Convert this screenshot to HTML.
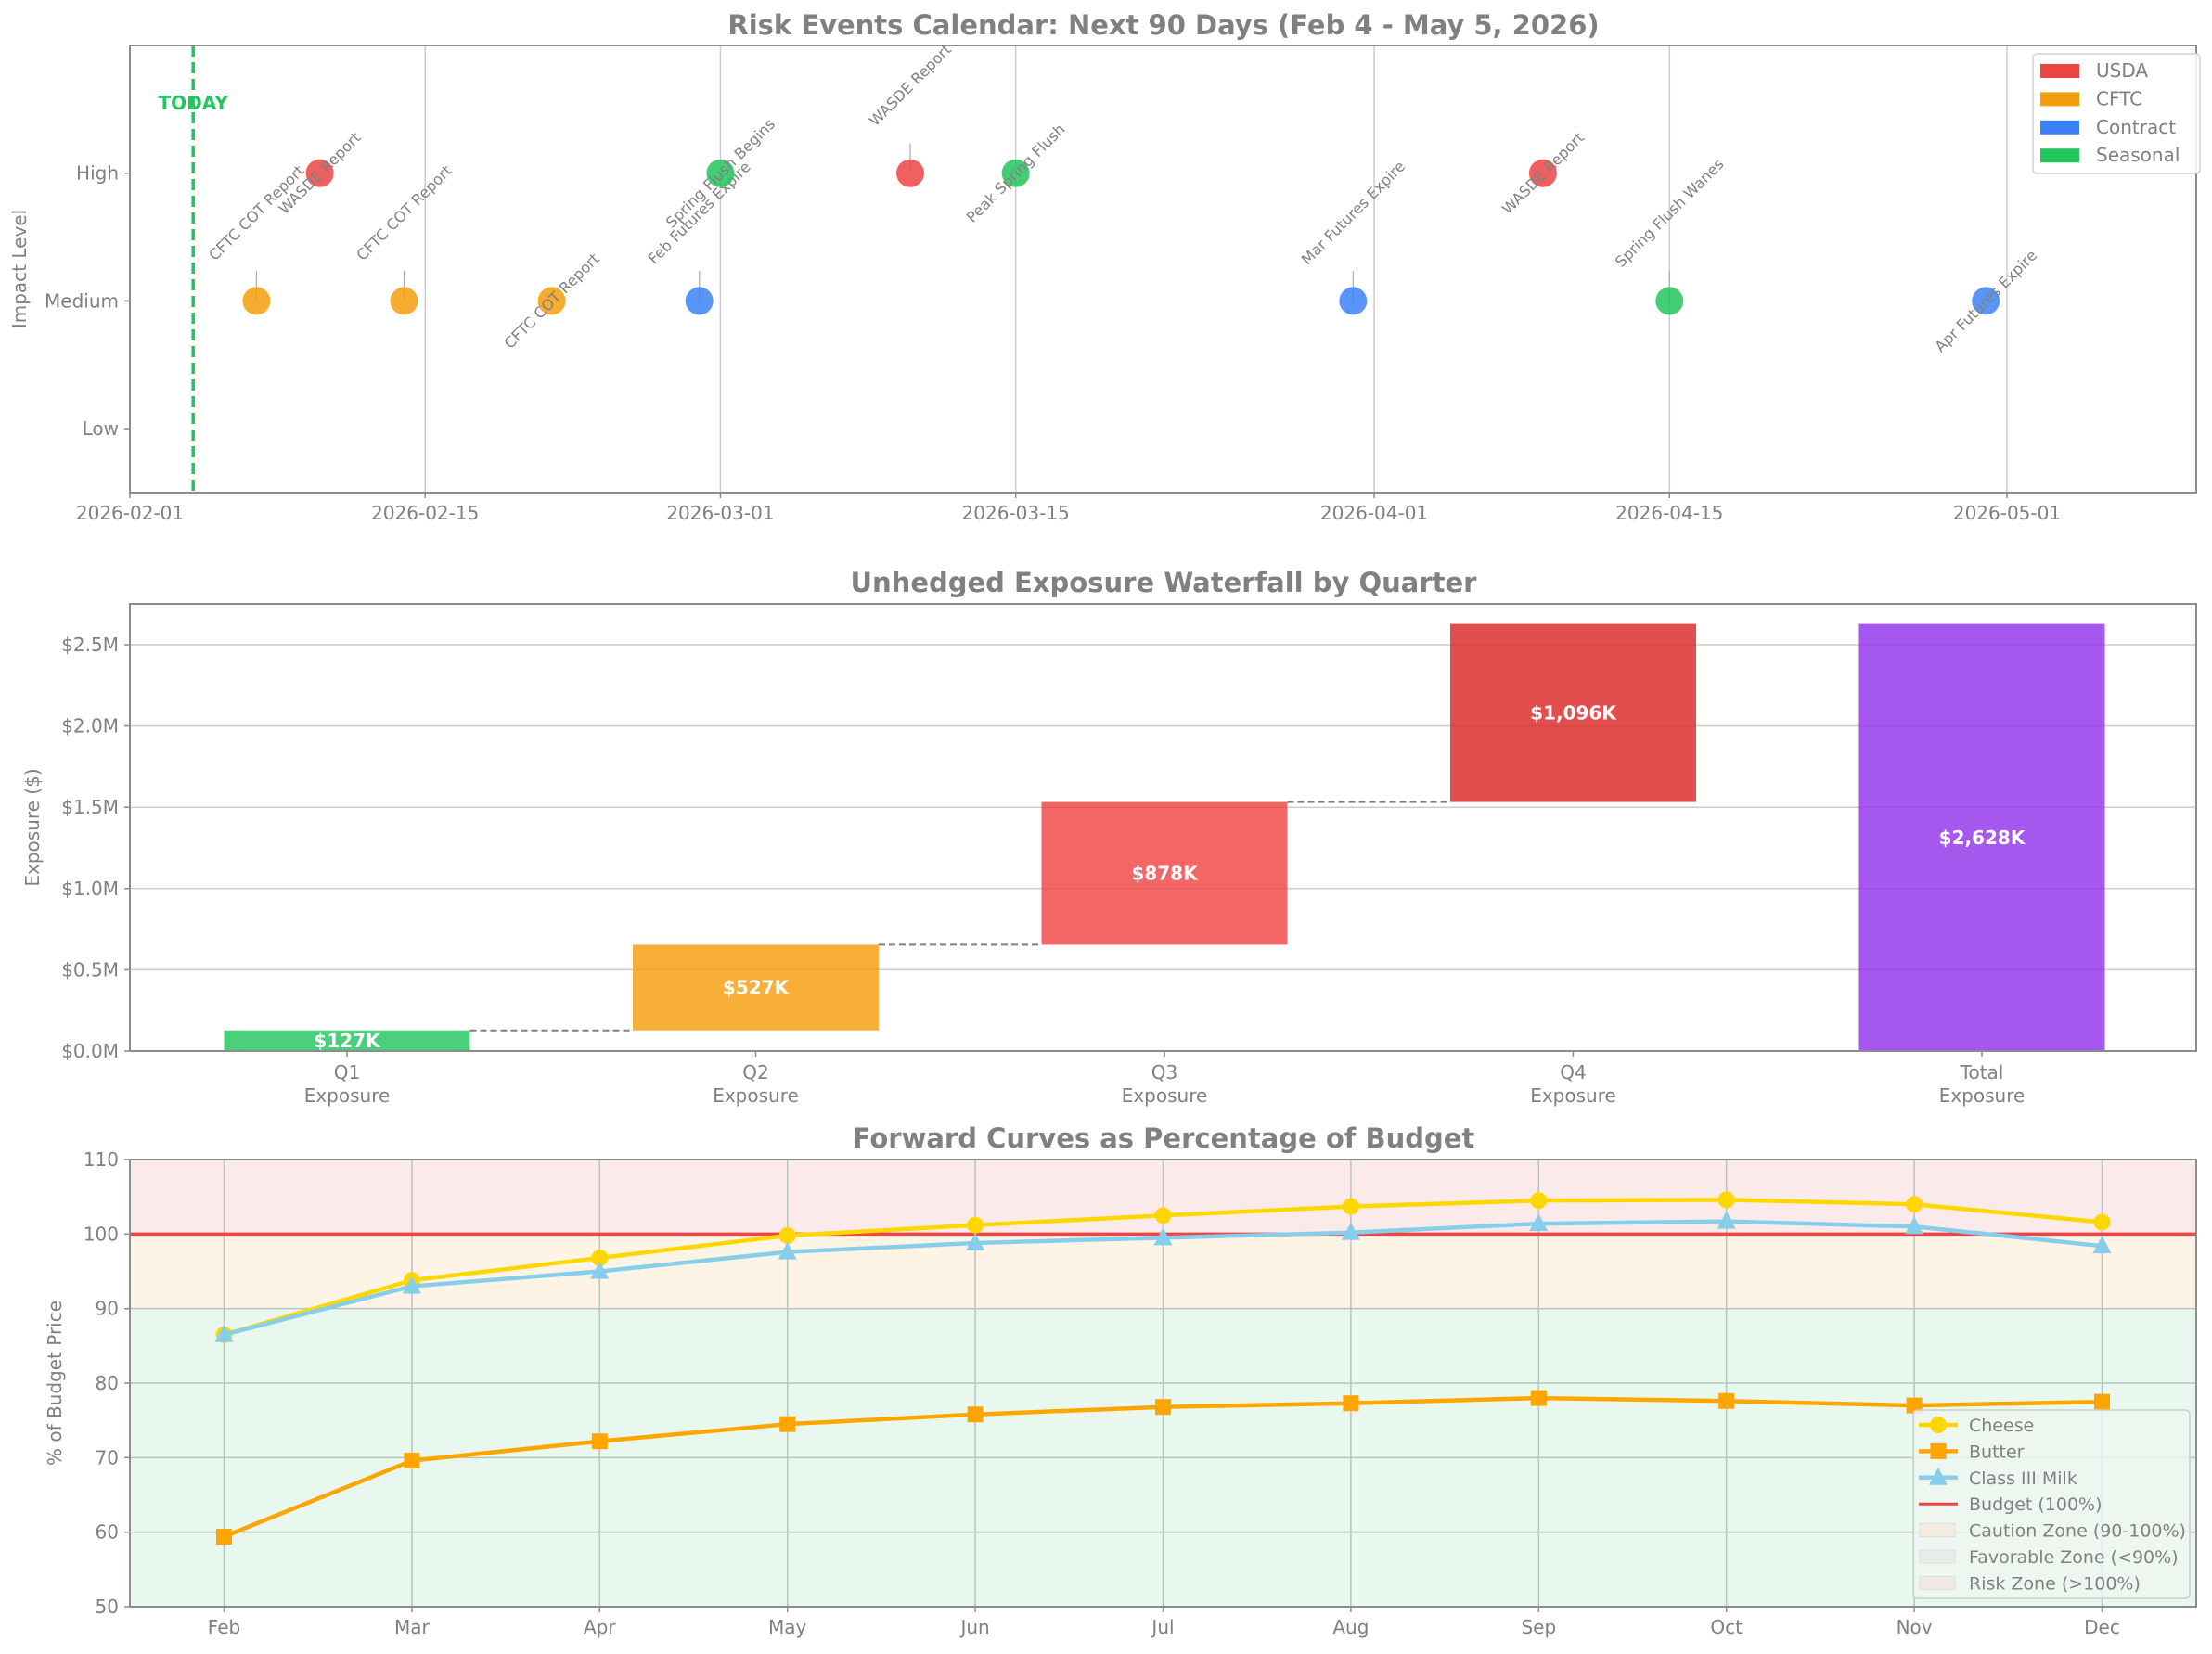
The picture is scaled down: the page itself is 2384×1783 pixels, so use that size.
<!DOCTYPE html>
<html><head><meta charset="utf-8"><style>
html,body{margin:0;padding:0;background:#fff}
svg{display:block;font-family:"DejaVu Sans","Liberation Sans",sans-serif}
</style></head><body>
<svg id="chart" width="2384" height="1783" viewBox="0 0 2384 1783" xmlns="http://www.w3.org/2000/svg">
<g id="p1"></g>
<g id="p2"></g>
<g id="p3"></g>
</svg>
<script>
// ---- Panel 1 data ----
const eventDates = ["2026-02-07","2026-02-10","2026-02-14","2026-02-21","2026-02-28","2026-03-01","2026-03-10","2026-03-15","2026-03-31","2026-04-09","2026-04-15","2026-04-30"];
const eventNames = ["CFTC COT Report","WASDE Report","CFTC COT Report","CFTC COT Report","Feb Futures Expire","Spring Flush Begins","WASDE Report","Peak Spring Flush","Mar Futures Expire","WASDE Report","Spring Flush Wanes","Apr Futures Expire"];
const eventCats = ["CFTC","USDA","CFTC","CFTC","Contract","Seasonal","USDA","Seasonal","Contract","USDA","Seasonal","Contract"];
const eventImpact = [2,3,2,2,2,3,3,3,2,3,2,2];
const dateTicks = ["2026-02-01","2026-02-15","2026-03-01","2026-03-15","2026-04-01","2026-04-15","2026-05-01"];
const impactLabels = ["Low","Medium","High"];
const todayDate = "2026-02-04";
const legendCats = ["USDA","CFTC","Contract","Seasonal"];
// ---- Panel 2 data ----
const wfCats = ["Q1","Q2","Q3","Q4","Total"];
const wfValues = [127,527,878,1096];
const wfTicks = [0,0.5,1.0,1.5,2.0,2.5];
// ---- Panel 3 data ----
const months = ["Feb","Mar","Apr","May","Jun","Jul","Aug","Sep","Oct","Nov","Dec"];
const cheese = [86.5,93.8,96.8,99.8,101.2,102.5,103.7,104.5,104.6,104.0,101.6];
const butter = [59.4,69.6,72.2,74.5,75.8,76.8,77.3,78.0,77.6,77.0,77.5];
const milk = [86.5,93.0,95.0,97.6,98.8,99.5,100.2,101.4,101.7,101.0,98.4];
const pctTicks = [50,60,70,80,90,100,110];

const NS="http://www.w3.org/2000/svg";
const TXT="#808080", SP="#8c8c8c", GR="#cccccc";
const FS=20, TFS=29;
function el(p,tag,at,txt){const e=document.createElementNS(NS,tag);for(const k in at)e.setAttribute(k,at[k]);if(txt!==undefined)e.textContent=txt;p.appendChild(e);return e;}
const catColor={USDA:"#ef4444",CFTC:"#f59e0b",Contract:"#3b82f6",Seasonal:"#22c55e"};
function dayNum(s){return Date.UTC(+s.slice(0,4),+s.slice(5,7)-1,+s.slice(8,10))/86400000;}

// ===== Panel 1 =====
(function(){
const g=document.getElementById('p1');
const L=140,R=2367,T=49,B=531;
const d0=dayNum("2026-02-01");
const X=d=>L+(dayNum(d)-d0)*22.73;
const Y=v=>T+(4.0-v)*(B-T)/3.5;
let t=el(g,'text',{x:1254,y:37,'text-anchor':'middle','font-size':TFS,'font-weight':'bold',fill:TXT},"Risk Events Calendar: Next 90 Days (Feb 4 - May 5, 2026)");

dateTicks.forEach(d=>{const x=X(d);
 let l=el(g,'line',{x1:x,x2:x,y1:T,y2:B,stroke:GR,'stroke-width':1.5});
 
 el(g,'line',{x1:x,x2:x,y1:B,y2:B+6,stroke:SP,'stroke-width':1.5});
 let tt=el(g,'text',{x:x,y:B+29,'text-anchor':'middle','font-size':FS,fill:TXT},d);
 
});
impactLabels.forEach((s,i)=>{const y=Y(i+1);
 el(g,'line',{x1:L-6,x2:L,y1:y,y2:y,stroke:SP,'stroke-width':1.5});
 let tt=el(g,'text',{x:L-12,y:y+7,'text-anchor':'end','font-size':FS,fill:TXT},s);
 
});
let yl=el(g,'text',{x:0,y:0,transform:`translate(28,${(T+B)/2}) rotate(-90)`,'text-anchor':'middle','font-size':FS,fill:TXT},"Impact Level");

const tx=X(todayDate);
let tl=el(g,'line',{x1:tx,x2:tx,y1:T,y2:B,stroke:"#22c55e",'stroke-width':3.5,'stroke-dasharray':'12,6'});

let tdt=el(g,'text',{x:tx,y:118,'text-anchor':'middle','font-size':20,'font-weight':'bold',fill:"#22c55e"},"TODAY");

eventDates.forEach((d,i)=>{const x=X(d),y=Y(eventImpact[i]);
 const up=(i%2===0);
 if(up){el(g,'line',{x1:x,x2:x,y1:y-32,y2:y,stroke:"#aaaaaa",'stroke-width':1.2});}
 let c=el(g,'circle',{cx:x,cy:y,r:15,fill:catColor[eventCats[i]],'fill-opacity':0.85});
 
 const ty=up?y-95:y;
 let a=el(g,'text',{x:0,y:0,transform:`translate(${x},${ty}) rotate(-45)`,'text-anchor':'middle','dominant-baseline':'central','font-size':16,fill:"#808080"},eventNames[i]);
 
});
el(g,'rect',{x:L,y:T,width:R-L,height:B-T,fill:'none',stroke:SP,'stroke-width':2});
let lg=el(g,'rect',{x:2191,y:58,width:180,height:129,rx:4,fill:'#fff','fill-opacity':0.85,stroke:'#d0d0d0','stroke-width':1.5});

legendCats.forEach((c,i)=>{const y=76+i*30.4;
 el(g,'rect',{x:2199,y:y-7,width:42,height:15,fill:catColor[c]});
 let lt=el(g,'text',{x:2259,y:y+7,'font-size':FS,fill:TXT},c);
 
});
})();

// ===== Panel 2 =====
(function(){
const g=document.getElementById('p2');
const L=140,R=2367,T=651,B=1133;
const Y=v=>B-v*175.2; // v in $M
const X=i=>374+i*440.5;
const bw=265;
let t=el(g,'text',{x:1254,y:638,'text-anchor':'middle','font-size':TFS,'font-weight':'bold',fill:TXT},"Unhedged Exposure Waterfall by Quarter");

wfTicks.forEach(v=>{const y=Y(v);
 let l=el(g,'line',{x1:L,x2:R,y1:y,y2:y,stroke:GR,'stroke-width':1.5});
 
 el(g,'line',{x1:L-6,x2:L,y1:y,y2:y,stroke:SP,'stroke-width':1.5});
 let tt=el(g,'text',{x:L-12,y:y+7,'text-anchor':'end','font-size':FS,fill:TXT},"$"+v.toFixed(1)+"M");
 
});
let yl=el(g,'text',{x:0,y:0,transform:`translate(42,${(T+B)/2}) rotate(-90)`,'text-anchor':'middle','font-size':FS,fill:TXT},"Exposure ($)");

const colors=["#22c55e","#f59e0b","#ef4444","#dc2626","#9333ea"];
let cum=0;const total=wfValues.reduce((a,b)=>a+b,0);
wfCats.forEach((c,i)=>{
 let base,val;
 if(i<wfValues.length){base=cum;val=wfValues[i];cum+=val;}else{base=0;val=total;}
 const y0=Y(base/1000),y1=Y((base+val)/1000);
 let r=el(g,'rect',{x:X(i)-bw/2,y:y1,width:bw,height:y0-y1,fill:colors[i],'fill-opacity':0.82});
 
 let vt=el(g,'text',{x:X(i),y:(y0+y1)/2+7,'text-anchor':'middle','font-size':20,'font-weight':'bold',fill:'#fff'},"$"+val.toLocaleString('en-US')+"K");
 
 if(i<wfValues.length-1){
  const yc=Y(cum/1000);
  let cl=el(g,'line',{x1:X(i)+bw/2,x2:X(i+1)-bw/2,y1:yc,y2:yc,stroke:'#808080','stroke-width':2,'stroke-dasharray':'7,4'});
  
 }
 el(g,'line',{x1:X(i),x2:X(i),y1:B,y2:B+6,stroke:SP,'stroke-width':1.5});
 let a=el(g,'text',{x:X(i),y:1163,'text-anchor':'middle','font-size':FS,fill:TXT},c);
 
 el(g,'text',{x:X(i),y:1188,'text-anchor':'middle','font-size':FS,fill:TXT},"Exposure");
});
el(g,'rect',{x:L,y:T,width:R-L,height:B-T,fill:'none',stroke:SP,'stroke-width':2});
})();

// ===== Panel 3 =====
(function(){
const g=document.getElementById('p3');
const L=140,R=2367,T=1250,B=1732;
const Y=v=>B-(v-50)*(B-T)/60;
const X=i=>241.5+i*202.4;
let t=el(g,'text',{x:1254,y:1237,'text-anchor':'middle','font-size':TFS,'font-weight':'bold',fill:TXT},"Forward Curves as Percentage of Budget");

let z1=el(g,'rect',{x:L,y:T,width:R-L,height:Y(100)-T,fill:'#fbeaea'});

let z2=el(g,'rect',{x:L,y:Y(100),width:R-L,height:Y(90)-Y(100),fill:'#fdf4e6'});

let z3=el(g,'rect',{x:L,y:Y(90),width:R-L,height:B-Y(90),fill:'#e8f8ef'});

pctTicks.forEach(v=>{const y=Y(v);
 let l=el(g,'line',{x1:L,x2:R,y1:y,y2:y,stroke:'#b8c4bc','stroke-width':1.5});
 
 el(g,'line',{x1:L-6,x2:L,y1:y,y2:y,stroke:SP,'stroke-width':1.5});
 let tt=el(g,'text',{x:L-12,y:y+7,'text-anchor':'end','font-size':FS,fill:TXT},String(v));
 
});
months.forEach((m,i)=>{const x=X(i);
 let l=el(g,'line',{x1:x,x2:x,y1:T,y2:B,stroke:'#b8c4bc','stroke-width':1.5});
 
 el(g,'line',{x1:x,x2:x,y1:B,y2:B+6,stroke:SP,'stroke-width':1.5});
 let tt=el(g,'text',{x:x,y:B+29,'text-anchor':'middle','font-size':FS,fill:TXT},m);
 
});
let yl=el(g,'text',{x:0,y:0,transform:`translate(66,${(T+B)/2}) rotate(-90)`,'text-anchor':'middle','font-size':FS,fill:TXT},"% of Budget Price");

let bl=el(g,'line',{x1:L,x2:R,y1:Y(100),y2:Y(100),stroke:'#ef4444','stroke-width':3.5});

function marker(p,type,x,y,col){
 if(type==='o')return el(p,'circle',{cx:x,cy:y,r:9,fill:col});
 if(type==='s')return el(p,'rect',{x:x-8.5,y:y-8.5,width:17,height:17,fill:col});
 return el(p,'polygon',{points:`${x},${y-11} ${x+10},${y+8} ${x-10},${y+8}`,fill:col});
}
function series(vals,col,type,name){
 const pts=vals.map((v,i)=>X(i)+','+Y(v)).join(' ');
 let pl=el(g,'polyline',{points:pts,fill:'none',stroke:col,'stroke-width':4.5,'stroke-linejoin':'round'});
 
 vals.forEach((v,i)=>{let m=marker(g,type,X(i),Y(v),col);
  });
}
series(butter,'#ffa500','s','butter');
series(cheese,'#ffd700','o','cheese');
series(milk,'#87ceeb','^','milk');
el(g,'rect',{x:L,y:T,width:R-L,height:B-T,fill:'none',stroke:SP,'stroke-width':2});
// legend
let lg=el(g,'rect',{x:2062,y:1520,width:298,height:203,rx:4,fill:'#eef6f0','fill-opacity':0.8,stroke:'#c8cfca','stroke-width':1.5});

const items=[["Cheese","#ffd700","o"],["Butter","#ffa500","s"],["Class III Milk","#87ceeb","^"],["Budget (100%)","#ef4444","-"],["Caution Zone (90-100%)","#f6ede2","z"],["Favorable Zone (<90%)","#e7ece8","z"],["Risk Zone (>100%)","#f1e8e6","z"]];
items.forEach((it,i)=>{const y=1536+i*28.4;
 if(it[2]==='z'){el(g,'rect',{x:2069,y:y-7,width:38,height:14,fill:it[1],stroke:'#dddddd','stroke-width':1});}
 else{el(g,'line',{x1:2068,x2:2110,y1:y,y2:y,stroke:it[1],'stroke-width':it[2]==='-'?3:4.5});
  if(it[2]!=='-')marker(g,it[2],2089,y,it[1]);}
 let lt=el(g,'text',{x:2122,y:y+7,'font-size':19,fill:TXT},it[0]);
 
});
})();
</script>
</body></html>
